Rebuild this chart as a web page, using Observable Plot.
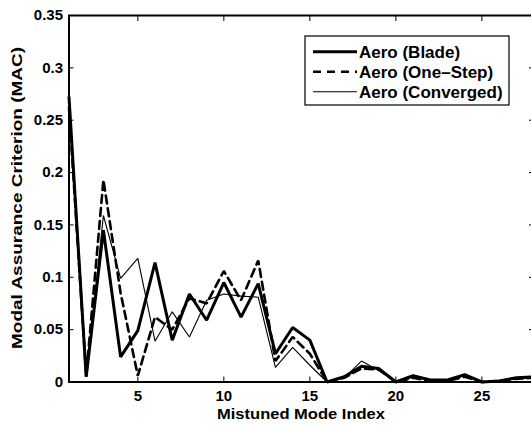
<!DOCTYPE html>
<html>
<head>
<meta charset="utf-8">
<script src="https://cdn.jsdelivr.net/npm/d3@7"></script>
<script src="https://cdn.jsdelivr.net/npm/@observablehq/plot@0.6"></script>
<style>
  html, body { margin: 0; padding: 0; background: #fff; }
  svg { display: block; }
</style>
</head>
<body>
<div id="chart"></div>
<script>
const modeIndex = [1,2,3,4,5,6,7,8,9,10,11,12,13,14,15,16,17,18,19,20,21,22,23,24,25,26,27,28];
const aeroBlade = [0.272,0.005,0.145,0.024,0.049,0.114,0.040,0.084,0.059,0.095,0.062,0.094,0.027,0.052,0.040,0.000,0.005,0.015,0.013,0.000,0.006,0.002,0.002,0.007,0.000,0.001,0.004,0.005];
const aeroOneStep = [0.262,0.006,0.193,0.085,0.006,0.062,0.050,0.080,0.075,0.106,0.078,0.116,0.020,0.043,0.027,0.000,0.004,0.013,0.012,0.000,0.004,0.001,0.001,0.005,0.000,0.001,0.003,0.004];
const aeroConverged = [0.266,0.005,0.159,0.099,0.118,0.039,0.067,0.043,0.078,0.084,0.082,0.081,0.014,0.033,0.016,0.000,0.004,0.020,0.011,0.000,0.005,0.001,0.001,0.006,0.000,0.001,0.003,0.004];
const seriesNames = ["Aero (Blade)", "Aero (One\u2013Step)", "Aero (Converged)"];
const xTicks = [5,10,15,20,25];
const yTicks = [0,0.05,0.1,0.15,0.2,0.25,0.3,0.35];
const yTickLabels = ["0","0.05","0.1","0.15","0.2","0.25","0.3","0.35"];

const toRows = vals => modeIndex.map((m, i) => ({x: m, y: vals[i]}));
const font = "'Liberation Sans', Arial, Helvetica, sans-serif";

const svg = Plot.plot({
  width: 531,
  height: 425,
  marginLeft: 68.5,
  marginRight: -2,
  marginTop: 15,
  marginBottom: 43.5,
  style: {fontFamily: font, fontSize: "15px", fontWeight: "bold", color: "#000", background: "#fff"},
  x: {domain: [1, 28]},
  y: {domain: [0, 0.35]},
  marks: [
    Plot.line(toRows(aeroConverged), {x: "x", y: "y", stroke: "#000", strokeWidth: 1.1, strokeLinejoin: "miter"}),
    Plot.line(toRows(aeroOneStep), {x: "x", y: "y", stroke: "#000", strokeWidth: 2.6, strokeDasharray: "8,5", strokeLinejoin: "miter"}),
    Plot.line(toRows(aeroBlade), {x: "x", y: "y", stroke: "#000", strokeWidth: 3, strokeLinejoin: "miter"}),
    Plot.axisX({anchor: "bottom", ticks: xTicks, tickSize: -5, tickPadding: 13, label: null, fontSize: 15, fontWeight: "bold"}),
    Plot.axisX({anchor: "top", ticks: xTicks, tickSize: -5, tickFormat: () => "", label: null}),
    Plot.axisY({anchor: "left", ticks: yTicks, tickSize: -5, tickPadding: 11, tickFormat: (d, i) => yTickLabels[i], label: null, fontSize: 15, fontWeight: "bold"}),
    Plot.axisY({anchor: "right", ticks: yTicks, tickSize: -5, tickFormat: () => "", label: null}),
    Plot.frame({stroke: "#000", strokeWidth: 2})
  ]
});

const s = d3.select(svg);
// axis titles
s.append("text")
  .attr("x", 301).attr("y", 419)
  .attr("text-anchor", "middle")
  .attr("textLength", 168).attr("lengthAdjust", "spacingAndGlyphs")
  .style("font-family", font).style("font-size", "15.5px").style("font-weight", "bold")
  .text("Mistuned Mode Index");
s.append("text")
  .attr("transform", "translate(22,198) rotate(-90)")
  .attr("text-anchor", "middle")
  .attr("textLength", 302).attr("lengthAdjust", "spacingAndGlyphs")
  .style("font-family", font).style("font-size", "15.5px").style("font-weight", "bold")
  .text("Modal Assurance Criterion (MAC)");

// legend
const lg = s.append("g");
lg.append("rect").attr("x", 305).attr("y", 36).attr("width", 204).attr("height", 69)
  .attr("fill", "#fff").attr("stroke", "#000").attr("stroke-width", 1.2);
const styles = [
  {w: 3, dash: null},
  {w: 2.6, dash: "8,6"},
  {w: 1.1, dash: null}
];
seriesNames.forEach((name, i) => {
  const cy = 51.7 + i * 20;
  const ln = lg.append("line").attr("x1", 313).attr("x2", 357).attr("y1", cy).attr("y2", cy)
    .attr("stroke", "#000").attr("stroke-width", styles[i].w);
  if (styles[i].dash) ln.attr("stroke-dasharray", styles[i].dash);
  lg.append("text").attr("x", 359).attr("y", cy + 6)
    .attr("text-anchor", "start")
    .style("font-family", font).style("font-size", "17px").style("font-weight", "bold")
    .text(name);
});

document.getElementById("chart").appendChild(svg);
</script>
</body>
</html>
